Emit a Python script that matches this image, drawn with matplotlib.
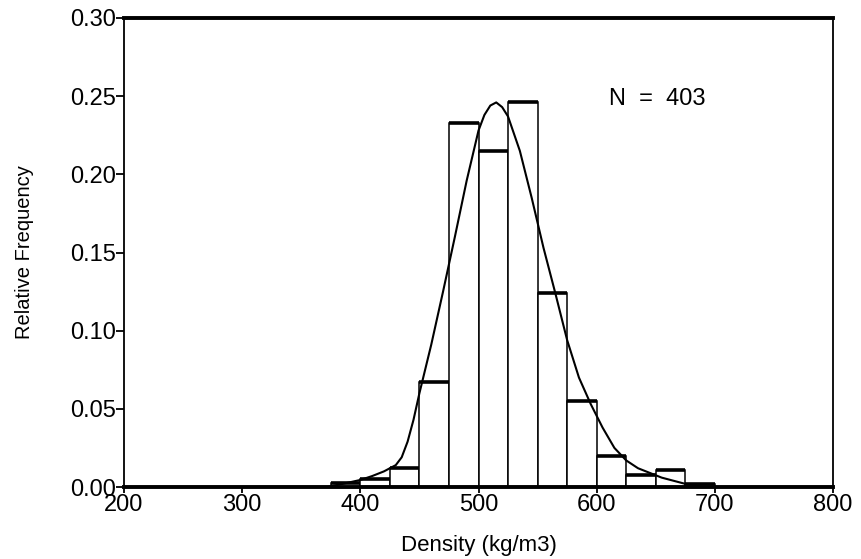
import numpy as np
import matplotlib.pyplot as plt

# histogram of densities, bins 25 kg/m3 wide
bin_left = [375, 400, 425, 450, 475, 500, 525, 550, 575, 600, 625, 650, 675]
rel_freq = [0.0025, 0.005, 0.012, 0.067, 0.233, 0.215, 0.246, 0.124,
            0.055, 0.020, 0.0075, 0.011, 0.002]
bin_width = 25

# fitted curve
curve_x = [372, 385, 400, 410, 420, 430, 435, 440, 445, 450, 460, 470,
           480, 490, 500, 505, 510, 515, 520, 525, 535, 545, 555, 565,
           575, 585, 595, 605, 615, 625, 635, 645, 655, 665, 675, 690]
curve_y = [0.000, 0.002, 0.0045, 0.007, 0.010, 0.014, 0.019, 0.029, 0.043,
           0.060, 0.091, 0.125, 0.160, 0.196, 0.228, 0.238, 0.244, 0.246,
           0.243, 0.237, 0.215, 0.185, 0.153, 0.124, 0.094, 0.070, 0.053,
           0.038, 0.025, 0.017, 0.012, 0.009, 0.006, 0.004, 0.002, 0.000]

n_label = 'N  =  403'

plt.rcParams['font.family'] = ['Liberation Sans', 'DejaVu Sans']
fig = plt.figure(figsize=(8.61, 5.59), dpi=100)
ax = fig.add_axes([0.1440, 0.1288, 0.8235, 0.839])

ax.bar(bin_left, rel_freq, width=bin_width, align='edge',
       facecolor='white', edgecolor='black', linewidth=1.1)
# heavy bar tops
ax.hlines(rel_freq, bin_left, np.array(bin_left) + bin_width,
          color='black', linewidth=2.6)
ax.plot(curve_x, curve_y, color='black', lw=1.5)

ax.set_xlim(200, 800)
ax.set_ylim(0, 0.30)
ax.set_xticks(np.arange(200, 801, 100))
ax.set_yticks(np.arange(0, 0.301, 0.05))
ax.set_yticklabels(['%.2f' % v for v in np.arange(0, 0.301, 0.05)])
ax.tick_params(axis='y', direction='out', length=6, width=1.3, labelsize=17, pad=0)
ax.tick_params(axis='x', direction='out', length=4, width=1.3, labelsize=17, pad=1)

for s in ['top', 'bottom']:
    ax.spines[s].set_linewidth(2.8)
for s in ['left', 'right']:
    ax.spines[s].set_linewidth(1.3)

ax.set_xlabel('Density (kg/m3)', fontsize=16, labelpad=14)
ax.set_ylabel('Relative Frequency', fontsize=14.5, labelpad=26)
ax.text(651, 0.248, n_label, fontsize=17, ha='center', va='center')

fig.savefig('out.png', dpi=100)
